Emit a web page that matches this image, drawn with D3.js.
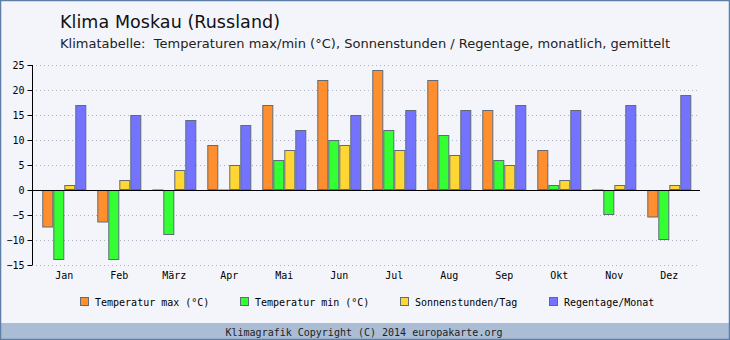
<!DOCTYPE html>
<html><head><meta charset="utf-8">
<script src="https://cdn.jsdelivr.net/npm/d3@7"></script>
<style>
html,body{margin:0;padding:0;background:#fff;}
svg{display:block;}
</style></head>
<body>
<svg id="c" width="730" height="340"></svg>
<script>
const months = ["Jan","Feb","März","Apr","Mai","Jun","Jul","Aug","Sep","Okt","Nov","Dez"];
const tempMax = [-7.5,-6.5,0,9,17,22,24,22,16,8,0,-5.5];
const tempMin = [-14,-14,-9,0,6,10,12,11,6,1,-5,-10];
const sunHours = [1,2,4,5,8,9,8,7,5,2,1,1];
const rainDays = [17,15,14,13,12,15,16,16,17,16,17,19];
const yTicks = [-15,-10,-5,0,5,10,15,20,25];
const seriesNames = ["Temperatur max (°C)","Temperatur min (°C)","Sonnenstunden/Tag","Regentage/Monat"];
const seriesColors = ["#ff8f2e","#33ff33","#ffd633","#7373ff"];
const seriesData = [tempMax,tempMin,sunHours,rainDays];

const svg = d3.select("#c");
const W = 730, H = 340;
const mono = "'DejaVu Sans Mono', monospace";
const sans = "'DejaVu Sans', sans-serif";

svg.append("rect").attr("x",0).attr("y",0).attr("width",W).attr("height",H).attr("fill","#f3f5fb");
svg.append("rect").attr("x",0).attr("y",323).attr("width",W).attr("height",17).attr("fill","#aabdd4");
svg.append("rect").attr("x",0.5).attr("y",0.5).attr("width",W-1).attr("height",H-1)
  .attr("fill","none").attr("stroke","#5d7ea6").attr("stroke-width",1.5);

svg.append("text").attr("x",60).attr("y",28).attr("font-family",sans).attr("font-size",17.5)
  .attr("fill","#111").attr("textLength",220).attr("lengthAdjust","spacing").text("Klima Moskau (Russland)");
svg.append("text").attr("x",60).attr("y",48).attr("font-family",sans).attr("font-size",13)
  .attr("fill","#222").attr("xml:space","preserve").attr("textLength",610).attr("lengthAdjust","spacing")
  .text("Klimatabelle:  Temperaturen max/min (°C), Sonnenstunden / Regentage, monatlich, gemittelt");

const y = d3.scaleLinear().domain([-15,25]).range([265,65]);
const x0 = d3.scaleBand().domain(months).range([36.8,696.8]).paddingInner(0.2).paddingOuter(0.1);
const x1 = d3.scaleBand().domain(d3.range(4)).range([0,x0.bandwidth()]);

// grid
svg.append("g").selectAll("line").data(yTicks.filter(d=>d!==0)).join("line")
  .attr("x1",36).attr("x2",700).attr("y1",d=>Math.round(y(d))+0.5).attr("y2",d=>Math.round(y(d))+0.5)
  .attr("stroke","#aab4c4").attr("stroke-dasharray","1,3");

// bars
const g = svg.append("g");
months.forEach((m,i)=>{
  seriesData.forEach((arr,s)=>{
    const v = arr[i];
    const bx = x0(m)+x1(s);
    const top = y(Math.max(0,v)), bot = y(Math.min(0,v));
    if (v === 0) {
      g.append("line").attr("x1",bx).attr("x2",bx+x1.bandwidth()).attr("y1",y(0)-0.5).attr("y2",y(0)-0.5)
        .attr("stroke",seriesColors[s]).attr("stroke-width",1);
    } else {
      g.append("rect").attr("x",bx+0.5).attr("y",top+0.5).attr("width",x1.bandwidth()-1).attr("height",bot-top-1)
        .attr("fill",seriesColors[s]).attr("stroke","#5f6b78").attr("stroke-width",1);
    }
  });
});

// zero line
svg.append("line").attr("x1",33).attr("x2",700).attr("y1",y(0)+0.5).attr("y2",y(0)+0.5).attr("stroke","#000");

// y axis
const yAxis = d3.axisLeft(y).tickValues(yTicks).tickSize(5).tickPadding(3).tickFormat(d3.format("d"));
const ya = svg.append("g").attr("transform","translate(32.5,0)").call(yAxis);
ya.select(".domain").attr("stroke","#000").attr("d","M0,"+y(25)+"V"+y(-15));
ya.selectAll(".tick line").attr("stroke","#000");
ya.selectAll("text").attr("font-family",mono).attr("font-size",10).attr("fill","#000");

// x labels
const xAxis = d3.axisBottom(x0).tickSize(0).tickPadding(7);
const xa = svg.append("g").attr("transform","translate(0,"+265+")").call(xAxis);
xa.select(".domain").remove();
xa.selectAll("text").attr("font-family",mono).attr("font-size",10).attr("fill","#000");

// legend
const legX = [80,240,400,549];
const lg = svg.append("g");
seriesNames.forEach((n,i)=>{
  lg.append("rect").attr("x",legX[i]+0.5).attr("y",297.5).attr("width",8).attr("height",8)
    .attr("fill",seriesColors[i]).attr("stroke","#5f6b78");
  lg.append("text").attr("x",legX[i]+15).attr("y",305.5).attr("font-family",mono).attr("font-size",10)
    .attr("fill","#000").text(n);
});

svg.append("text").attr("x",364).attr("y",335.5).attr("text-anchor","middle").attr("font-family",mono)
  .attr("font-size",10).attr("fill","#222").text("Klimagrafik Copyright (C) 2014 europakarte.org");
</script>
</body></html>
